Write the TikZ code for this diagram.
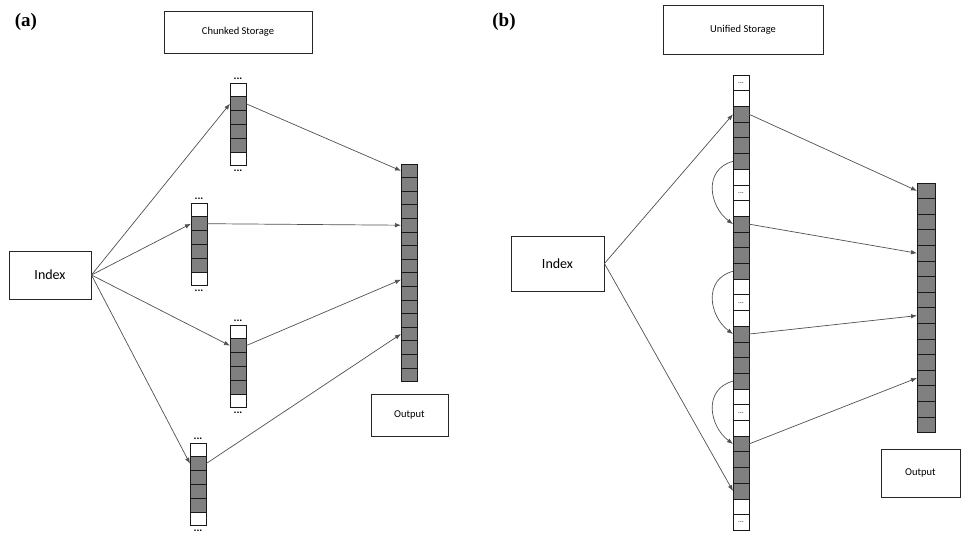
\documentclass[tikz,border=0pt]{standalone}
\usepackage{fontspec}
\setmainfont{Carlito}
\newfontfamily\panelfont{Liberation Serif}
\usepackage{xcolor}
\usetikzlibrary{calc, arrows.meta, positioning}

\definecolor{cellgray}{HTML}{808080}
\definecolor{linkgray}{HTML}{505050}

\tikzset{
    box/.style={draw=black!85, line width=0.9pt, fill=white, inner sep=0pt, font=\fontsize{10.5}{12}\selectfont},
    bigbox/.style={box, font=\fontsize{14}{16}\selectfont},
    cell/.style={draw=black!90, line width=0.8pt, minimum width=16pt, inner sep=0pt, outer sep=0pt},
    link/.style={draw=linkgray, line width=0.7pt, -{Latex[length=6pt,width=4.5pt]}},
    dots/.style={font=\fontsize{11}{11}\selectfont\bfseries, inner sep=0pt},
    smalldots/.style={font=\fontsize{7}{7}\selectfont\bfseries, text=black!65, inner sep=0pt},
    panel/.style={font=\panelfont\fontsize{19}{19}\selectfont\bfseries}
}

\begin{document}
\begin{tikzpicture}[x=1pt, y=-1pt]
        \useasboundingbox (0,0) rectangle (961,533);

        % (a) chunked storage
        \node[panel] (pa) at (26,22) {(a)};
        \node[box, minimum width=148pt, minimum height=42pt] (stora) at (238,32) {Chunked Storage};
        \node[bigbox, minimum width=82pt, minimum height=48pt] (idxa) at (50,275) {Index};
        \node[box, minimum width=77pt, minimum height=42pt] (outboxa) at (409.5,415) {Output};
        \foreach \k/\x/\y in {1/238/83, 2/199/203, 3/238/325, 4/198/443} {
            \foreach \i/\f in {1/white, 2/cellgray, 3/cellgray, 4/cellgray, 5/cellgray, 6/white}
                \node[cell, fill=\f, minimum height=13.8pt] (ch\k-\i) at (\x, \y+13.8*\i-6.9) {};
            \node[dots, above=3pt of ch\k-1] (dt\k) {...};
            \node[dots, below=4pt of ch\k-6] (db\k) {...};
        }
        \foreach \i in {1,...,16}
            \node[cell, fill=cellgray, minimum height=13.6pt] (oa-\i) at (409, 164+13.6*\i-6.8) {};
        \foreach \k/\j in {1/1, 2/5, 3/9, 4/13} {
            \draw[link] (idxa.east) -- (ch\k-2.west);
            \draw[link] (ch\k-2.east) -- (oa-\j.west);
        }

        % (b) unified storage
        \node[panel] (pb) at (504,22) {(b)};
        \node[box, minimum width=160pt, minimum height=49pt] (storb) at (743,29.5) {Unified Storage};
        \node[bigbox, minimum width=93pt, minimum height=55pt] (idxb) at (557.5,263.5) {Index};
        \node[box, minimum width=79pt, minimum height=48pt] (outboxb) at (920.5,473) {Output};
        \foreach \i in {0,...,28} {
            \pgfmathtruncatemacro{\m}{mod(\i,7)}
            \ifnum\m<2 \def\f{white}\else\ifnum\m=6 \def\f{white}\else\def\f{cellgray}\fi\fi
            \node[cell, fill=\f, minimum height=15.7pt] (u-\i) at (741, 75+15.7*\i+7.85) {};
            \ifnum\m=0 \node[smalldots] (ud-\i) at (u-\i) {...};\fi
        }
        \foreach \i in {1,...,16}
            \node[cell, fill=cellgray, minimum width=18pt, minimum height=15.6pt] (ob-\i) at (926, 183+15.6*\i-7.8) {};
        \draw[link] (idxb.east) -- (u-2.west);
        \draw[link] (idxb.east) -- (u-26.west);
        \foreach \s/\t in {5/9, 12/16, 19/23}
            \draw[link] (u-\s.west) .. controls +(-30,8) and +(-24,-18) .. (u-\t.west);
        \foreach \s/\j in {2/1, 9/5, 16/9, 23/13}
            \draw[link] (u-\s.east) -- (ob-\j.west);
\end{tikzpicture}
\end{document}
